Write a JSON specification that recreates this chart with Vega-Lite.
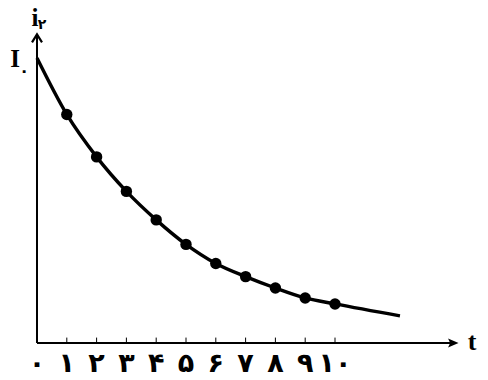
{
  "$schema": "https://vega.github.io/schema/vega-lite/v6.json",
  "width": 488,
  "height": 380,
  "autosize": "none",
  "padding": 0,
  "background": "white",
  "config": {"view": {"stroke": null}},
  "data": {"values": [{}]},
  "datasets": {
    "curve": [
      {"t": 0, "v": 100},
      {"t": 1, "v": 80.2},
      {"t": 2, "v": 65.3},
      {"t": 3, "v": 53.2},
      {"t": 4, "v": 43.2},
      {"t": 5, "v": 34.6},
      {"t": 6, "v": 27.9},
      {"t": 7, "v": 23.3},
      {"t": 8, "v": 19.3},
      {"t": 9, "v": 15.8},
      {"t": 10, "v": 13.7},
      {"t": 12.18, "v": 9.5}
    ],
    "measured": [
      {"t": 1, "v": 80.2},
      {"t": 2, "v": 65.3},
      {"t": 3, "v": 53.2},
      {"t": 4, "v": 43.2},
      {"t": 5, "v": 34.6},
      {"t": 6, "v": 27.9},
      {"t": 7, "v": 23.3},
      {"t": 8, "v": 19.3},
      {"t": 9, "v": 15.8},
      {"t": 10, "v": 13.7}
    ],
    "ticks": [
      {"t": 0, "label": "۰"},
      {"t": 1, "label": "۱"},
      {"t": 2, "label": "۲"},
      {"t": 3, "label": "۳"},
      {"t": 4, "label": "۴"},
      {"t": 5, "label": "۵"},
      {"t": 6, "label": "۶"},
      {"t": 7, "label": "۷"},
      {"t": 8, "label": "۸"},
      {"t": 9, "label": "۹"},
      {"t": 10, "label": "۱۰"}
    ]
  },
  "layer": [
    {
      "data": {"name": "curve"},
      "mark": {"type": "line", "interpolate": "monotone", "color": "black", "strokeWidth": 3.4},
      "encoding": {
        "x": {"field": "t", "type": "quantitative", "axis": null, "scale": {"domain": [-1.2416, 15.1342], "nice": false, "zero": false}},
        "y": {"field": "v", "type": "quantitative", "axis": null, "scale": {"domain": [-12.982, 120.351], "nice": false, "zero": false}}
      }
    },
    {
      "data": {"name": "measured"},
      "mark": {"type": "point", "filled": true, "color": "black", "size": 130, "opacity": 1},
      "encoding": {
        "x": {"field": "t", "type": "quantitative", "axis": null, "scale": {"domain": [-1.2416, 15.1342], "nice": false, "zero": false}},
        "y": {"field": "v", "type": "quantitative", "axis": null, "scale": {"domain": [-12.982, 120.351], "nice": false, "zero": false}}
      }
    },
    {
      "data": {"name": "ticks"},
      "transform": [{"filter": "datum.t > 0"}],
      "mark": {"type": "rule", "color": "black", "strokeWidth": 1},
      "encoding": {
        "x": {"field": "t", "type": "quantitative", "axis": null, "scale": {"domain": [-1.2416, 15.1342], "nice": false, "zero": false}},
        "y": {"datum": 0, "type": "quantitative", "axis": null, "scale": {"domain": [-12.982, 120.351], "nice": false, "zero": false}},
        "y2": {"datum": 1.9}
      }
    },
    {
      "data": {"name": "ticks"},
      "mark": {"type": "text", "color": "black", "font": "DejaVu Sans", "fontWeight": "bold", "fontSize": 27, "baseline": "alphabetic", "align": "center"},
      "encoding": {
        "x": {"field": "t", "type": "quantitative", "axis": null, "scale": {"domain": [-1.2416, 15.1342], "nice": false, "zero": false}},
        "y": {"datum": -10.2, "type": "quantitative", "axis": null, "scale": {"domain": [-12.982, 120.351], "nice": false, "zero": false}},
        "text": {"field": "label"}
      }
    },
    {
      "mark": {"type": "rule", "color": "black", "strokeWidth": 2},
      "encoding": {
        "x": {"datum": 0, "type": "quantitative", "axis": null, "scale": {"domain": [-1.2416, 15.1342], "nice": false, "zero": false}},
        "x2": {"datum": 13.9},
        "y": {"datum": 0, "type": "quantitative", "axis": null, "scale": {"domain": [-12.982, 120.351], "nice": false, "zero": false}}
      }
    },
    {
      "mark": {"type": "rule", "color": "black", "strokeWidth": 2},
      "encoding": {
        "x": {"datum": 0, "type": "quantitative", "axis": null, "scale": {"domain": [-1.2416, 15.1342], "nice": false, "zero": false}},
        "y": {"datum": 0, "type": "quantitative", "axis": null, "scale": {"domain": [-12.982, 120.351], "nice": false, "zero": false}},
        "y2": {"datum": 108.2}
      }
    },
    {
      "mark": {"type": "point", "shape": "M-1,-0.85L1,0L-1,0.85L-0.6,0Z", "filled": true, "color": "black", "size": 110, "opacity": 1},
      "encoding": {
        "x": {"datum": 13.97, "type": "quantitative", "axis": null, "scale": {"domain": [-1.2416, 15.1342], "nice": false, "zero": false}},
        "y": {"datum": 0, "type": "quantitative", "axis": null, "scale": {"domain": [-12.982, 120.351], "nice": false, "zero": false}}
      }
    },
    {
      "mark": {"type": "point", "shape": "M-1,0.8L0,-0.8L1,0.8", "filled": false, "color": "black", "strokeWidth": 2.2, "size": 100, "opacity": 1},
      "encoding": {
        "x": {"datum": 0, "type": "quantitative", "axis": null, "scale": {"domain": [-1.2416, 15.1342], "nice": false, "zero": false}},
        "y": {"datum": 106.9, "type": "quantitative", "axis": null, "scale": {"domain": [-12.982, 120.351], "nice": false, "zero": false}}
      }
    },
    {
      "mark": {"type": "text", "text": "t", "color": "black", "font": "Liberation Serif", "fontWeight": "bold", "fontSize": 26, "baseline": "alphabetic", "align": "center"},
      "encoding": {
        "x": {"datum": 14.6, "type": "quantitative", "axis": null, "scale": {"domain": [-1.2416, 15.1342], "nice": false, "zero": false}},
        "y": {"datum": -2.46, "type": "quantitative", "axis": null, "scale": {"domain": [-12.982, 120.351], "nice": false, "zero": false}}
      }
    },
    {
      "mark": {"type": "text", "text": "I", "color": "black", "font": "Liberation Serif", "fontWeight": "bold", "fontSize": 25, "baseline": "alphabetic", "align": "center"},
      "encoding": {
        "x": {"datum": -0.738, "type": "quantitative", "axis": null, "scale": {"domain": [-1.2416, 15.1342], "nice": false, "zero": false}},
        "y": {"datum": 96.8, "type": "quantitative", "axis": null, "scale": {"domain": [-12.982, 120.351], "nice": false, "zero": false}}
      }
    },
    {
      "mark": {"type": "text", "text": "۰", "color": "black", "font": "DejaVu Sans", "fontWeight": "bold", "fontSize": 16, "baseline": "middle", "align": "center"},
      "encoding": {
        "x": {"datum": -0.436, "type": "quantitative", "axis": null, "scale": {"domain": [-1.2416, 15.1342], "nice": false, "zero": false}},
        "y": {"datum": 95.4, "type": "quantitative", "axis": null, "scale": {"domain": [-12.982, 120.351], "nice": false, "zero": false}}
      }
    },
    {
      "mark": {"type": "text", "text": "i", "color": "black", "font": "Liberation Serif", "fontWeight": "bold", "fontSize": 25, "baseline": "alphabetic", "align": "center"},
      "encoding": {
        "x": {"datum": -0.067, "type": "quantitative", "axis": null, "scale": {"domain": [-1.2416, 15.1342], "nice": false, "zero": false}},
        "y": {"datum": 111.2, "type": "quantitative", "axis": null, "scale": {"domain": [-12.982, 120.351], "nice": false, "zero": false}}
      }
    },
    {
      "mark": {"type": "text", "text": "۲", "color": "black", "font": "DejaVu Sans", "fontWeight": "bold", "fontSize": 14, "baseline": "middle", "align": "center"},
      "encoding": {
        "x": {"datum": 0.168, "type": "quantitative", "axis": null, "scale": {"domain": [-1.2416, 15.1342], "nice": false, "zero": false}},
        "y": {"datum": 111.6, "type": "quantitative", "axis": null, "scale": {"domain": [-12.982, 120.351], "nice": false, "zero": false}}
      }
    }
  ]
}
